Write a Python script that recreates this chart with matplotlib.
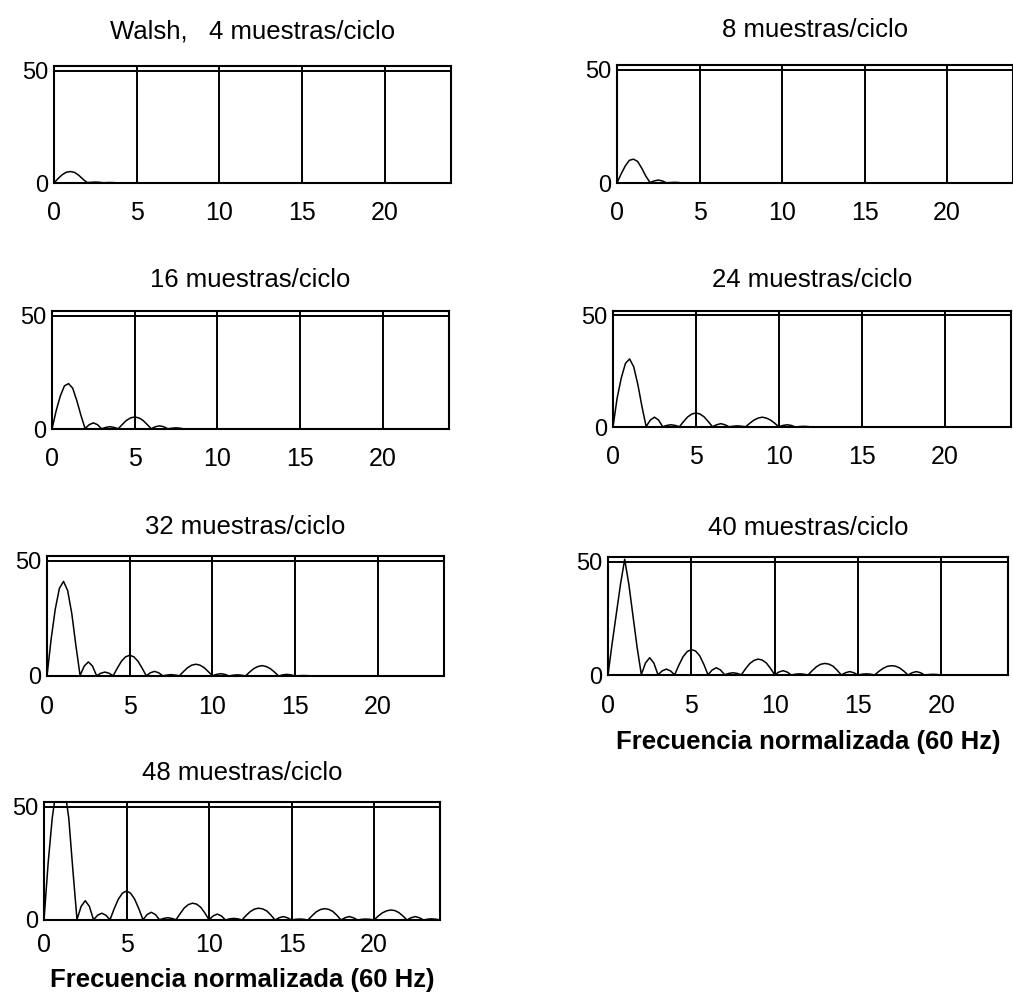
import numpy as np
import matplotlib
matplotlib.use("Agg")
import matplotlib.pyplot as plt

plt.rcParams['font.family'] = ['Liberation Sans', 'DejaVu Sans']

# Frequency grid (normalised to 60 Hz), step 0.25
freq = np.arange(0, 24.001, 0.25)

titles = ["Walsh,   4 muestras/ciclo", "8 muestras/ciclo", "16 muestras/ciclo",
          "24 muestras/ciclo", "32 muestras/ciclo", "40 muestras/ciclo",
          "48 muestras/ciclo"]
xticks = [0, 5, 10, 15, 20]
yticks = [0, 50]
xlabel_text = "Frecuencia normalizada (60 Hz)"

mag_4 = [0, 2.0, 3.7, 4.8, 5.1, 4.7, 3.4, 1.7,
         0.2, 0.3, 0.4, 0.3, 0.1, 0.2, 0.2, 0.1,
         0, 0, 0, 0, 0, 0, 0, 0,
         0, 0, 0, 0, 0, 0, 0, 0]
mag_8 = [0, 4.0, 7.5, 10.0, 10.5, 9.5, 6.5, 3.0,
         0.2, 0.9, 1.3, 0.9, 0.1, 0.2, 0.3, 0.2,
         0, 0, 0, 0, 0, 0, 0, 0,
         0, 0, 0, 0, 0, 0, 0, 0]
mag_16 = [0, 8.0, 14.5, 19.0, 20.0, 18.0, 12.5, 6.0,
          0.2, 1.9, 2.7, 1.9, 0.1, 0.7, 1.0, 0.7,
          0.1, 2.0, 3.8, 4.9, 5.3, 4.9, 3.8, 2.0,
          0.1, 1.0, 1.4, 1.0, 0.1, 0.35, 0.5, 0.35,
          0, 0, 0, 0, 0, 0, 0, 0]
mag_24 = [0, 13.0, 22.0, 28.5, 30.5, 27.0, 19.0, 9.0,
          0.2, 3.1, 4.4, 3.1, 0.1, 0.7, 1.0, 0.7,
          0.1, 2.4, 4.5, 5.8, 6.3, 5.8, 4.5, 2.4,
          0.1, 1.0, 1.5, 1.0, 0.1, 0.35, 0.5, 0.35,
          0.1, 1.7, 3.1, 4.0, 4.4, 4.0, 3.1, 1.7,
          0.1, 0.7, 1.0, 0.7, 0.0, 0.2, 0.3, 0.2,
          0, 0, 0, 0, 0, 0, 0, 0]
mag_32 = [0, 16.0, 29.0, 38.0, 41.0, 37.0, 27.0, 13.0,
          0.2, 4.3, 6.1, 4.3, 0.1, 1.2, 1.7, 1.2,
          0.1, 3.4, 6.4, 8.3, 9.0, 8.3, 6.4, 3.4,
          0.1, 1.4, 2.0, 1.4, 0.1, 0.4, 0.6, 0.4,
          0.1, 1.9, 3.6, 4.7, 5.1, 4.7, 3.6, 1.9,
          0.1, 0.7, 1.0, 0.7, 0.0, 0.35, 0.5, 0.35,
          0.0, 1.7, 3.2, 4.1, 4.5, 4.1, 3.2, 1.7,
          0.0, 0.5, 0.7, 0.5, 0.0, 0.15, 0.2, 0.15,
          0, 0, 0, 0, 0, 0, 0, 0]
mag_40 = [0, 14.0, 27.0, 40.0, 51.0, 40.0, 26.0, 12.0,
          0.2, 5.3, 7.6, 5.3, 0.1, 1.8, 2.6, 1.8,
          0.1, 4.3, 8.0, 10.3, 11.2, 10.6, 8.5, 4.7,
          0.1, 2.2, 3.2, 2.2, 0.1, 0.7, 1.0, 0.7,
          0.1, 2.7, 5.0, 6.4, 7.0, 6.6, 5.3, 2.9,
          0.1, 1.3, 1.9, 1.3, 0.0, 0.35, 0.5, 0.35,
          0.0, 1.9, 3.6, 4.7, 5.1, 4.8, 3.9, 2.1,
          0.0, 1.0, 1.5, 1.0, 0.0, 0.35, 0.5, 0.35,
          0.0, 1.6, 2.9, 3.8, 4.1, 3.9, 3.1, 1.7,
          0.0, 1.0, 1.5, 1.0, 0.0, 0.2, 0.3, 0.2,
          0, 0, 0, 0, 0, 0, 0, 0]
mag_48 = [0, 25.0, 45.0, 58.0, 62.0, 58.0, 45.0, 22.0,
          0.2, 6.0, 8.5, 6.0, 0.1, 2.1, 3.0, 2.1,
          0.1, 4.9, 9.1, 11.8, 12.8, 11.8, 9.1, 4.9,
          0.1, 2.4, 3.4, 2.4, 0.1, 0.7, 1.0, 0.7,
          0.1, 2.8, 5.3, 6.8, 7.4, 7.0, 5.6, 3.1,
          0.1, 1.8, 2.6, 1.8, 0.0, 0.5, 0.7, 0.5,
          0.0, 2.0, 3.7, 4.8, 5.2, 4.9, 4.0, 2.2,
          0.0, 1.0, 1.5, 1.0, 0.0, 0.3, 0.4, 0.3,
          0.0, 1.9, 3.6, 4.6, 5.0, 4.7, 3.8, 2.1,
          0.0, 1.0, 1.5, 1.0, 0.0, 0.3, 0.4, 0.3,
          0.0, 1.7, 3.1, 4.0, 4.4, 4.2, 3.3, 1.8,
          0.0, 1.0, 1.5, 1.0, 0.0, 0.35, 0.5, 0.35,
          0.0]

series = [mag_4, mag_8, mag_16, mag_24, mag_32, mag_40, mag_48]

W, H = 1013, 999
fig = plt.figure(figsize=(W / 100, H / 100), dpi=100)

# (left px, top px, bottom px, width px, x tick pad pt, title pad pt)
boxes = [(54, 66, 183, 397, 13, 20), (617, 65, 183, 396, 13, 20),
         (52, 311, 429, 397, 13, 17), (613, 311, 427, 398, 13, 17),
         (47, 556, 676, 397, 14, 16), (608, 557, 675, 400, 14, 16),
         (44, 802, 920, 396, 9, 16)]

for i, (vals, title, (l, t, b, w, xpad, tpad)) in enumerate(zip(series, titles, boxes)):
    ax = fig.add_axes([l / W, 1 - b / H, w / W, (b - t) / H])
    ax.plot(freq[:len(vals)], vals, color='black', lw=1.1, clip_on=True)
    ax.set_xlim(0, 24)
    ax.set_ylim(0, 52)
    ax.set_xticks(xticks)
    ax.set_yticks(yticks)
    ax.grid(True, color='black', lw=1.4)
    ax.set_axisbelow(False)
    for s in ax.spines.values():
        s.set_linewidth(1.5)
        s.set_color('black')
    ax.tick_params(axis='x', length=0, pad=xpad, labelsize=18)
    ax.tick_params(axis='y', length=0, pad=4, labelsize=17)
    ax.set_title(title, fontsize=18.5, pad=tpad)
    if i in (5, 6):
        ax.set_xlabel(xlabel_text, fontsize=18.5, fontweight='bold', labelpad=8)

fig.savefig("out.png", dpi=100)
